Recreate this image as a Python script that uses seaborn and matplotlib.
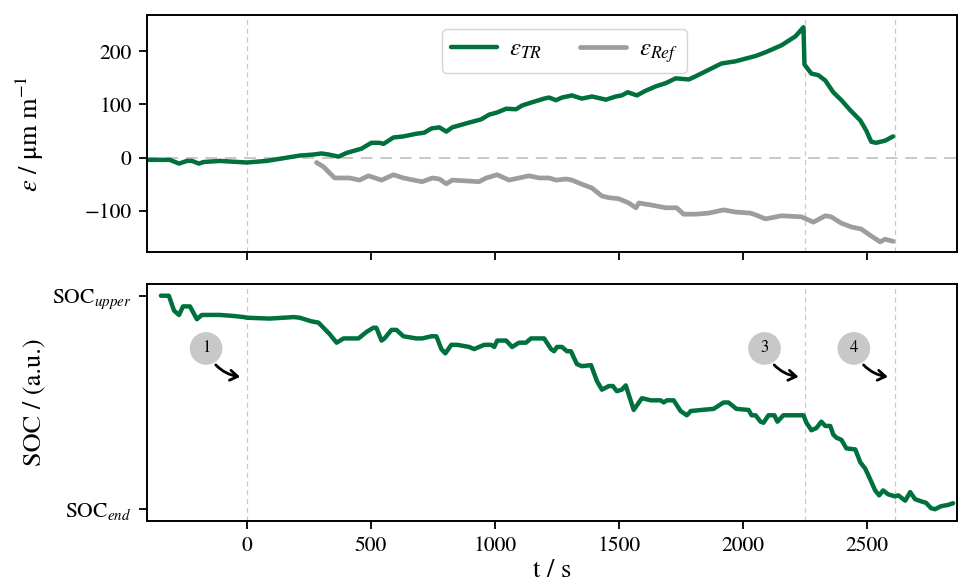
import seaborn as sns
import matplotlib.pyplot as plt
import numpy as np

# strain of the tab region (green) and of the reference (gray), µm/m
t_tr = [-395, -310, -273, -241, -221, -193, -173, -108, 0, 80, 133, 213, 269, 301, 330, 370,
        402, 462, 502, 535, 551, 591, 631, 683, 715, 744, 776, 804, 828, 896, 944, 977,
        1009, 1045, 1085, 1109, 1149, 1198, 1218, 1246, 1270, 1310, 1350, 1391, 1447, 1487,
        1511, 1535, 1572, 1608, 1648, 1688, 1728, 1781, 1809, 1913, 1969, 2050, 2090, 2154,
        2211, 2243, 2247, 2275, 2303, 2331, 2363, 2396, 2432, 2472, 2496, 2516, 2536, 2572, 2604]
eps_tr = [-4, -4, -11, -6, -6, -11, -8, -6, -9, -6, -2, 4, 6, 8, 6, 2,
          9, 17, 28, 28, 26, 38, 40, 45, 47, 55, 57, 49, 57, 66, 72, 81,
          85, 92, 91, 98, 104, 111, 113, 108, 113, 117, 111, 115, 109, 115,
          117, 123, 117, 126, 134, 140, 149, 147, 153, 177, 181, 191, 198, 211,
          228, 245, 175, 158, 155, 145, 123, 108, 89, 70, 51, 30, 28, 32, 40]

t_ref = [281, 309, 354, 374, 414, 454, 490, 543, 591, 631, 683, 707, 748, 776, 804, 828,
         936, 965, 1009, 1057, 1097, 1137, 1178, 1218, 1246, 1286, 1310, 1346, 1391, 1431,
         1459, 1499, 1539, 1568, 1580, 1632, 1688, 1732, 1760, 1809, 1861, 1921, 1969, 2030,
         2054, 2090, 2154, 2235, 2283, 2331, 2355, 2396, 2436, 2476, 2516, 2552, 2572, 2604]
eps_ref = [-9, -17, -38, -38, -38, -42, -34, -42, -32, -38, -43, -45, -38, -40, -49, -42,
           -45, -38, -32, -42, -38, -34, -38, -38, -42, -40, -42, -49, -57, -72,
           -75, -77, -85, -94, -85, -89, -94, -94, -106, -106, -104, -98, -102, -104,
           -108, -115, -109, -111, -121, -109, -111, -123, -130, -134, -147, -158, -153, -157]

# state of charge, normalised (1 = SOC_upper, 0 = SOC_end)
t_soc = [-346, -314, -293, -273, -257, -229, -201, -181, -108, -52, -12, 0, 92, 189, 213, 261,
         289, 309, 334, 362, 390, 450, 482, 510, 522, 543, 555, 583, 603, 631, 683, 707,
         744, 764, 784, 800, 824, 848, 896, 916, 936, 957, 985, 997, 1009, 1045, 1069, 1097,
         1125, 1145, 1198, 1226, 1238, 1250, 1270, 1290, 1306, 1330, 1350, 1387, 1411, 1431,
         1459, 1475, 1491, 1511, 1527, 1559, 1592, 1628, 1668, 1680, 1692, 1720, 1748, 1773,
         1789, 1833, 1881, 1921, 1941, 1973, 2022, 2034, 2050, 2070, 2082, 2102, 2126, 2138,
         2162, 2243, 2255, 2275, 2295, 2315, 2331, 2351, 2363, 2376, 2396, 2416, 2452, 2472,
         2492, 2512, 2532, 2548, 2564, 2584, 2612, 2625, 2653, 2673, 2693, 2717, 2737, 2757,
         2773, 2797, 2825, 2846]
soc = [1.0, 1.0, 0.93, 0.91, 0.95, 0.95, 0.89, 0.91, 0.91, 0.905, 0.90, 0.897, 0.893, 0.90, 0.897, 0.88,
       0.874, 0.85, 0.82, 0.78, 0.80, 0.80, 0.83, 0.85, 0.85, 0.79, 0.80, 0.84, 0.84, 0.81, 0.80, 0.80,
       0.81, 0.81, 0.75, 0.73, 0.77, 0.77, 0.76, 0.75, 0.76, 0.77, 0.77, 0.76, 0.79, 0.79, 0.76, 0.78,
       0.78, 0.80, 0.80, 0.75, 0.74, 0.76, 0.76, 0.74, 0.74, 0.68, 0.67, 0.675, 0.60, 0.56,
       0.577, 0.577, 0.553, 0.56, 0.58, 0.465, 0.52, 0.51, 0.51, 0.50, 0.51, 0.51, 0.46, 0.44,
       0.46, 0.465, 0.47, 0.50, 0.50, 0.47, 0.465, 0.44, 0.44, 0.41, 0.405, 0.44, 0.44, 0.41,
       0.44, 0.44, 0.405, 0.37, 0.38, 0.41, 0.39, 0.39, 0.35, 0.335, 0.325, 0.285, 0.28, 0.22,
       0.19, 0.14, 0.088, 0.065, 0.088, 0.07, 0.06, 0.065, 0.04, 0.08, 0.047, 0.037, 0.03, 0.005,
       0.0, 0.014, 0.02, 0.028]

events = [0, 2250, 2610]          # vertical markers
labels = ['1', '3', '4']          # circled numbers

green = '#00703c'
gray = '#9a9e9e'
light = '#c8c8c8'

sns.set_style('ticks', {'axes.edgecolor': 'black', 'xtick.color': 'black',
                        'ytick.color': 'black', 'text.color': 'black',
                        'axes.labelcolor': 'black'})
plt.rcParams['font.family'] = ['STIXGeneral', 'DejaVu Serif']
plt.rcParams['mathtext.fontset'] = 'stix'
plt.rcParams['axes.linewidth'] = 1.4

fig, (ax1, ax2) = plt.subplots(2, 1, figsize=(9.59, 5.88), dpi=100, sharex=True)
fig.subplots_adjust(left=0.1533, right=0.998, top=0.9745, bottom=0.114, hspace=0.135)

# upper panel: strain
ax1.axhline(0, color=light, lw=1.4, dashes=(6, 4), zorder=0)
for e in events:
    ax1.axvline(e, color=light, lw=0.9, dashes=(4, 3), zorder=0)
sns.lineplot(x=t_tr, y=eps_tr, ax=ax1, color=green, linewidth=3.2, label=r'$\varepsilon_{TR}$', sort=False)
sns.lineplot(x=t_ref, y=eps_ref, ax=ax1, color=gray, linewidth=3.4, label=r'$\varepsilon_{Ref}$', sort=False)
ax1.set_ylim(-177, 268)
ax1.set_yticks([-100, 0, 100, 200])
ax1.set_ylabel(r'$\varepsilon$ / μm m$^{-1}$', fontsize=19)
ax1.legend(loc='upper center', bbox_to_anchor=(0.515, 0.995), ncol=2, fontsize=18,
           handlelength=1.85, handletextpad=0.5, columnspacing=1.5,
           framealpha=1, edgecolor='#d5d5d5', borderpad=0.35)

# lower panel: SOC
for e in events:
    ax2.axvline(e, color=light, lw=0.9, dashes=(4, 3), zorder=0)
sns.lineplot(x=t_soc, y=soc, ax=ax2, color=green, linewidth=3.2, sort=False)
ax2.set_ylim(-0.055, 1.055)
ax2.set_yticks([0, 1])
ax2.set_yticklabels([r'$\mathrm{SOC}_{end}$', r'$\mathrm{SOC}_{upper}$'])
ax2.set_ylabel('SOC / (a.u.)', fontsize=19)
ax2.set_xlabel('t / s', fontsize=19, labelpad=2)

for e, lab in zip(events, labels):
    ax2.annotate(lab, xy=(e - 27, 0.62), xytext=(e - 164, 0.753),
                 fontsize=12, ha='center', va='center',
                 bbox=dict(boxstyle='circle,pad=0.5', fc=light, ec='none'),
                 arrowprops=dict(arrowstyle='->,head_length=0.45,head_width=0.3',
                                 connectionstyle='arc3,rad=0.3', lw=2.0, color='black',
                                 shrinkA=2, shrinkB=0))

ax2.set_xlim(-402, 2862)
ax2.set_xticks([0, 500, 1000, 1500, 2000, 2500])
for ax in (ax1, ax2):
    ax.tick_params(labelsize=15.5, length=6, width=1.3, pad=5)
    for s in ax.spines.values():
        s.set_visible(True)
fig.align_ylabels([ax1, ax2])

fig.savefig('out.png', dpi=100)
